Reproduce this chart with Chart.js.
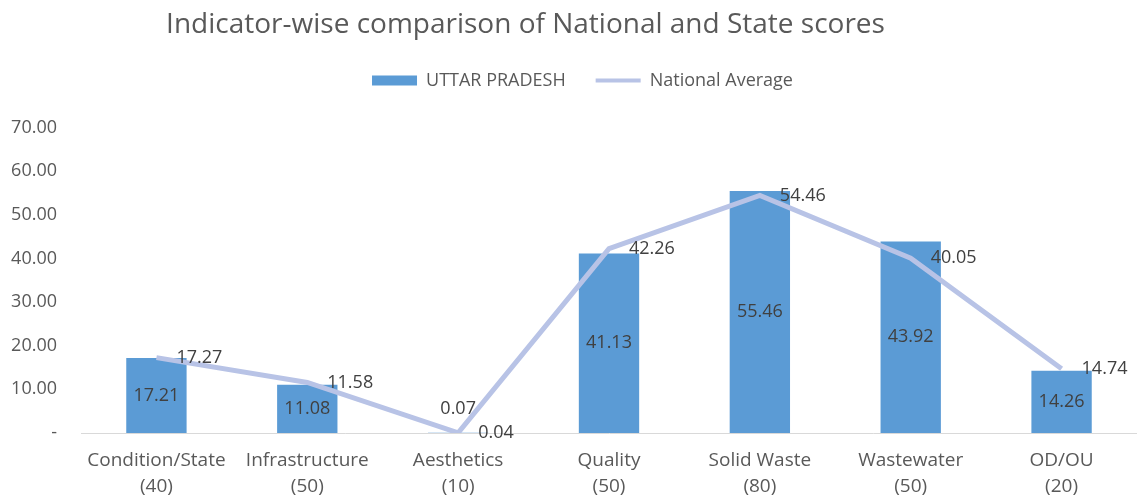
<!DOCTYPE html>
<html>
<head>
<meta charset="utf-8">
<script src="https://cdn.jsdelivr.net/npm/chart.js@4"></script>
<style>
  html, body { margin:0; padding:0; background:#fff; }
  #wrap { width:1137px; height:497px; }
</style>
</head>
<body>
<div id="wrap"><canvas id="chart" width="1137" height="497"></canvas></div>
<script>
// Indicator-wise comparison of National and State scores

const categories = [
  ['Condition/State','(40)'],
  ['Infrastructure','(50)'],
  ['Aesthetics','(10)'],
  ['Quality','(50)'],
  ['Solid Waste','(80)'],
  ['Wastewater','(50)'],
  ['OD/OU','(20)']
]
const stateScores = [17.21, 11.08, 0.07, 41.13, 55.46, 43.92, 14.26]
const nationalAvg = [17.27, 11.58, 0.04, 42.26, 54.46, 40.05, 14.74]

const FONT = "'Open Sans', 'Noto Sans', sans-serif"
const GREY = '#595959'
const BAR = '#5B9BD5'
const LINE = '#B8C3E6'

// small inline replacement for a datalabels plugin
const valueLabels = {
  id:'valueLabels',
  afterDatasetsDraw(chart){
    const ctx = chart.ctx
    ctx.save()
    ctx.font = '18px ' + FONT
    ctx.fillStyle = '#404040'
    ctx.textBaseline = 'middle'
    chart.data.datasets.forEach((ds, i)=>{
      const meta = chart.getDatasetMeta(i)
      meta.data.forEach((el, j)=>{
        const txt = ds.data[j].toFixed(2)
        if(ds.type==='bar'){
          ctx.textAlign = 'center'
          const h = el.base - el.y
          const y = h < 20 ? el.y - 24 : (el.y + el.base)/2
          ctx.fillText(txt, el.x, y)
        } else {
          ctx.textAlign = 'left'
          ctx.fillText(txt, el.x + 20, el.y)
        }
      })
    })
    ctx.restore()
  }
}

// push the plot down below the legend, and nudge title/legend like the original
const legendGap = {
  id:'legendGap',
  beforeInit(chart){
    const fit = chart.legend.fit
    chart.legend.fit = function(){
      fit.bind(chart.legend)()
      this.height += 28
    }
  },
  afterLayout(chart){
    chart.titleBlock.right -= 86
    chart.legend.left += 28
  }
}

new Chart(document.getElementById('chart'), {
  data:{
    labels: categories,
    datasets:[
      {
        type:'bar', label:'UTTAR PRADESH', data: stateScores,
        backgroundColor:BAR, borderWidth:0,
        barPercentage:0.8, categoryPercentage:0.5, order:2
      },
      {
        type:'line', label:'National Average', data: nationalAvg,
        borderColor:LINE, backgroundColor:LINE, borderWidth:5,
        pointRadius:0, tension:0, order:1
      }
    ]
  },
  options:{
    responsive:false,
    animation:false,
    layout:{ padding:{ left:0, right:0, top:0, bottom:0 } },
    plugins:{
      title:{
        display:true, text:'Indicator-wise comparison of National and State scores',
        color:GREY, font:{ family:FONT, size:28, weight:'normal' },
        padding:{ top:8, bottom:0 }
      },
      legend:{
        position:'top',
        labels:{
          color:GREY, font:{ family:FONT, size:18 },
          usePointStyle:true, pointStyleWidth:45, boxHeight:10, padding:30,
          generateLabels(chart){
            return chart.data.datasets.map((ds,i)=>({
              text: ds.label,
              fillStyle: ds.type==='bar' ? BAR : LINE,
              strokeStyle: ds.type==='bar' ? BAR : LINE,
              lineWidth: ds.type==='bar' ? 0 : 4,
              fontColor: GREY,
              datasetIndex: i,
              pointStyle: ds.type==='bar' ? 'rect' : 'line'
            }))
          }
        }
      },
      tooltip:{ enabled:false }
    },
    scales:{
      x:{
        grid:{ display:false },
        border:{ display:true, color:'#D9D9D9', width:1 },
        ticks:{ color:GREY, font:{ family:FONT, size:19, lineHeight:1.37 }, maxRotation:0, padding:7 },
        afterFit(scale){ scale.height = 64 }
      },
      y:{
        min:0, max:70,
        grid:{ display:false },
        border:{ display:false },
        ticks:{
          stepSize:10, color:GREY, font:{ family:FONT, size:18 }, padding:16,
          callback:(v)=> v===0 ? '-' : v.toFixed(2)
        },
        afterFit(scale){ scale.width = 81 }
      }
    }
  },
  plugins:[valueLabels, legendGap]
})
</script>
</body>
</html>
